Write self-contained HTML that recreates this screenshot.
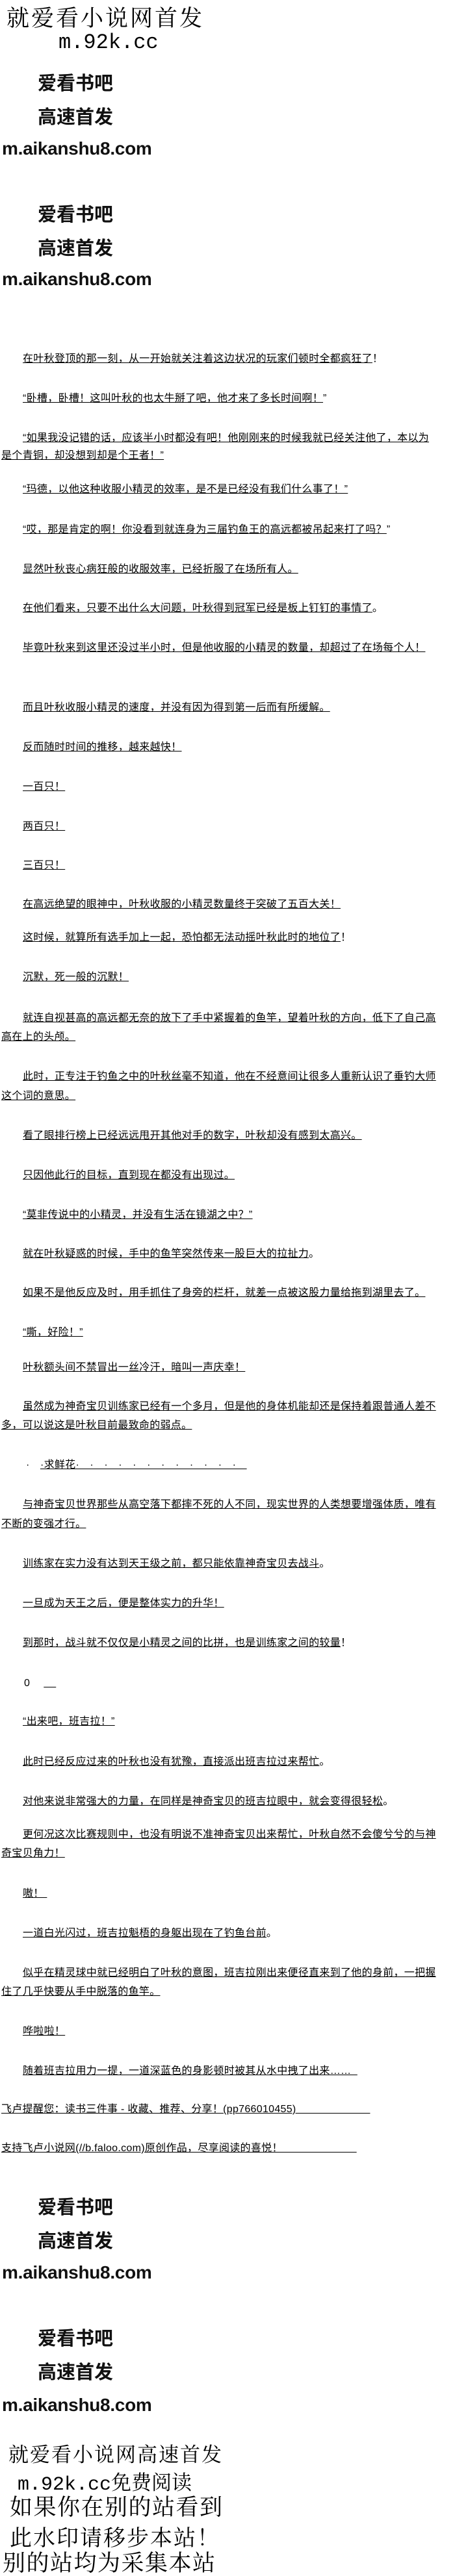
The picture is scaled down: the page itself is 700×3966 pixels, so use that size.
<!DOCTYPE html>
<html><head><meta charset="utf-8">
<style>
html,body{margin:0;padding:0;background:#fff;}
body{width:700px;height:3954px;position:relative;overflow:hidden;color:#000;}
.l{position:absolute;left:0;white-space:nowrap;font-family:"Liberation Sans","Noto Sans CJK SC",sans-serif;font-size:16px;line-height:22px;letter-spacing:0.3px;}
.l span{text-decoration:underline;}
.i{left:35px;}
.n{left:2px;}
.h1{position:absolute;font-family:"Liberation Serif","Noto Serif CJK SC",serif;white-space:nowrap;color:#000;}
.b{position:absolute;white-space:nowrap;font-weight:bold;color:#111;font-family:"Liberation Sans","Noto Sans CJK SC",sans-serif;}
.bc{left:58px;font-size:29px;line-height:34px;}
.bu{left:3px;font-size:28px;line-height:34px;letter-spacing:-0.3px;}
</style></head><body>

<div class="h1" style="left:10px;top:9px;font-size:35px;line-height:40px;letter-spacing:3px;">就爱看小说网首发</div>
<div class="h1" style="left:90px;top:49px;font-size:32px;line-height:34px;font-family:'Liberation Mono',monospace;">m.92k.cc</div>

<div class="b bc" style="top:112px">爱看书吧</div>
<div class="b bc" style="top:164px">高速首发</div>
<div class="b bu" style="top:212px">m.aikanshu8.com</div>
<div class="b bc" style="top:314px">爱看书吧</div>
<div class="b bc" style="top:366px">高速首发</div>
<div class="b bu" style="top:413px">m.aikanshu8.com</div>

<div class="l i" style="top:542px"><span>在叶秋登顶的那一刻，从一开始就关注着这边状况的玩家们顿时全都疯狂了</span>！</div>
<div class="l i" style="top:603px"><span>“卧槽，卧槽！这叫叶秋的也太牛掰了吧，他才来了多长时间啊！</span>”</div>
<div class="l i" style="top:664px"><span>“如果我没记错的话，应该半小时都没有吧！他刚刚来的时候我就已经关注他了，本以为</span></div>
<div class="l n" style="top:691px"><span>是个青铜，却没想到却是个王者！”</span></div>
<div class="l i" style="top:743px"><span>“玛德，以他这种收服小精灵的效率，是不是已经没有我们什么事了！”</span></div>
<div class="l i" style="top:805px"><span>“哎，那是肯定的啊！你没看到就连身为三届钓鱼王的高远都被吊起来打了吗？</span>”</div>
<div class="l i" style="top:866px"><span>显然叶秋丧心病狂般的收服效率，已经折服了在场所有人。</span></div>
<div class="l i" style="top:926px"><span>在他们看来，只要不出什么大问题，叶秋得到冠军已经是板上钉钉的事情了</span>。</div>
<div class="l i" style="top:987px"><span>毕竟叶秋来到这里还没过半小时，但是他收服的小精灵的数量，却超过了在场每个人！</span></div>
<div class="l i" style="top:1079px"><span>而且叶秋收服小精灵的速度，并没有因为得到第一后而有所缓解。</span></div>
<div class="l i" style="top:1140px"><span>反而随时时间的推移，越来越快！</span></div>
<div class="l i" style="top:1201px"><span>一百只！</span></div>
<div class="l i" style="top:1262px"><span>两百只！</span></div>
<div class="l i" style="top:1322px"><span>三百只！</span></div>
<div class="l i" style="top:1382px"><span>在高远绝望的眼神中，叶秋收服的小精灵数量终于突破了五百大关！</span></div>
<div class="l i" style="top:1433px"><span>这时候，就算所有选手加上一起，恐怕都无法动摇叶秋此时的地位了</span>！</div>
<div class="l i" style="top:1494px"><span>沉默，死一般的沉默！</span></div>
<div class="l i" style="top:1557px"><span>就连自视甚高的高远都无奈的放下了手中紧握着的鱼竿，望着叶秋的方向，低下了自己高</span></div>
<div class="l n" style="top:1586px"><span>高在上的头颅。</span></div>
<div class="l i" style="top:1647px"><span>此时，正专注于钓鱼之中的叶秋丝毫不知道，他在不经意间让很多人重新认识了垂钓大师</span></div>
<div class="l n" style="top:1677px"><span>这个词的意思。</span></div>
<div class="l i" style="top:1738px"><span>看了眼排行榜上已经远远甩开其他对手的数字，叶秋却没有感到太高兴。</span></div>
<div class="l i" style="top:1799px"><span>只因他此行的目标，直到现在都没有出现过。</span></div>
<div class="l i" style="top:1860px"><span>“莫非传说中的小精灵，并没有生活在镜湖之中？”</span></div>
<div class="l i" style="top:1920px"><span>就在叶秋疑惑的时候，手中的鱼竿突然传来一股巨大的拉扯力</span>。</div>
<div class="l i" style="top:1980px"><span>如果不是他反应及时，用手抓住了身旁的栏杆，就差一点被这股力量给拖到湖里去了。</span></div>
<div class="l i" style="top:2041px"><span>“嘶，好险！”</span></div>
<div class="l i" style="top:2095px"><span>叶秋额头间不禁冒出一丝冷汗，暗叫一声庆幸！</span></div>
<div class="l i" style="top:2155px"><span>虽然成为神奇宝贝训练家已经有一个多月，但是他的身体机能却还是保持着跟普通人差不</span></div>
<div class="l n" style="top:2184px"><span>多，可以说这是叶秋目前最致命的弱点。</span></div>
<div class="l" style="left:40px;top:2245px">·　<span>·求鲜花·　·　·　·　·　·　·　·　·　·　·　·　</span></div>
<div class="l i" style="top:2306px"><span>与神奇宝贝世界那些从高空落下都摔不死的人不同，现实世界的人类想要增强体质，唯有</span></div>
<div class="l n" style="top:2336px"><span>不断的变强才行。</span></div>
<div class="l i" style="top:2397px"><span>训练家在实力没有达到天王级之前，都只能依靠神奇宝贝去战斗</span>。</div>
<div class="l i" style="top:2458px"><span>一旦成为天王之后，便是整体实力的升华！</span></div>
<div class="l i" style="top:2519px"><span>到那时，战斗就不仅仅是小精灵之间的比拼，也是训练家之间的较量</span>！</div>
<div class="l" style="left:37px;top:2581px">0　&nbsp;<span>&nbsp;&nbsp;&nbsp;&nbsp;</span></div>
<div class="l i" style="top:2640px"><span>“出来吧，班吉拉！”</span></div>
<div class="l i" style="top:2702px"><span>此时已经反应过来的叶秋也没有犹豫，直接派出班吉拉过来帮忙</span>。</div>
<div class="l i" style="top:2763px"><span>对他来说非常强大的力量，在同样是神奇宝贝的班吉拉眼中，就会变得很轻松</span>。</div>
<div class="l i" style="top:2814px"><span>更何况这次比赛规则中，也没有明说不准神奇宝贝出来帮忙，叶秋自然不会傻兮兮的与神</span></div>
<div class="l n" style="top:2843px"><span>奇宝贝角力！</span></div>
<div class="l i" style="top:2905px"><span>嗷！&nbsp;</span></div>
<div class="l i" style="top:2966px"><span>一道白光闪过，班吉拉魁梧的身躯出现在了钓鱼台前</span>。</div>
<div class="l i" style="top:3027px"><span>似乎在精灵球中就已经明白了叶秋的意图，班吉拉刚出来便径直来到了他的身前，一把握</span></div>
<div class="l n" style="top:3056px"><span>住了几乎快要从手中脱落的鱼竿。</span></div>
<div class="l i" style="top:3117px"><span>哗啦啦！</span></div>
<div class="l i" style="top:3178px"><span>随着班吉拉用力一提，一道深蓝色的身影顿时被其从水中拽了出来……&nbsp;&nbsp;</span></div>
<div class="l n" style="top:3237px"><span>飞卢提醒您：读书三件事 - 收藏、推荐、分享！(pp766010455)&nbsp;&nbsp;&nbsp;&nbsp;&nbsp;&nbsp;&nbsp;&nbsp;&nbsp;&nbsp;&nbsp;&nbsp;&nbsp;&nbsp;&nbsp;&nbsp;&nbsp;&nbsp;&nbsp;&nbsp;&nbsp;&nbsp;&nbsp;&nbsp;</span></div>
<div class="l n" style="top:3297px"><span>支持飞卢小说网(//b.faloo.com)原创作品，尽享阅读的喜悦！&nbsp;&nbsp;&nbsp;&nbsp;&nbsp;&nbsp;&nbsp;&nbsp;&nbsp;&nbsp;&nbsp;&nbsp;&nbsp;&nbsp;&nbsp;&nbsp;&nbsp;&nbsp;&nbsp;&nbsp;&nbsp;&nbsp;&nbsp;&nbsp;</span></div>

<div class="b bc" style="top:3382px">爱看书吧</div>
<div class="b bc" style="top:3434px">高速首发</div>
<div class="b bu" style="top:3482px">m.aikanshu8.com</div>
<div class="b bc" style="top:3584px">爱看书吧</div>
<div class="b bc" style="top:3636px">高速首发</div>
<div class="b bu" style="top:3686px">m.aikanshu8.com</div>

<div class="h1" style="left:13px;top:3762px;font-size:31px;line-height:36px;letter-spacing:2px;">就爱看小说网高速首发</div>
<div class="h1" style="left:27px;top:3805px;font-size:31px;line-height:36px;"><span style="font-family:'Liberation Mono',monospace;font-size:30px;">m.92k.cc</span>免费阅读</div>
<div class="h1" style="left:15px;top:3842px;font-size:35px;line-height:38px;letter-spacing:1.5px;">如果你在别的站看到</div>
<div class="h1" style="left:15px;top:3890px;font-size:34px;line-height:38px;letter-spacing:2px;">此水印请移步本站！</div>
<div class="h1" style="left:4px;top:3928px;font-size:35px;line-height:38px;letter-spacing:1.5px;">别的站均为采集本站</div>

</body></html>
